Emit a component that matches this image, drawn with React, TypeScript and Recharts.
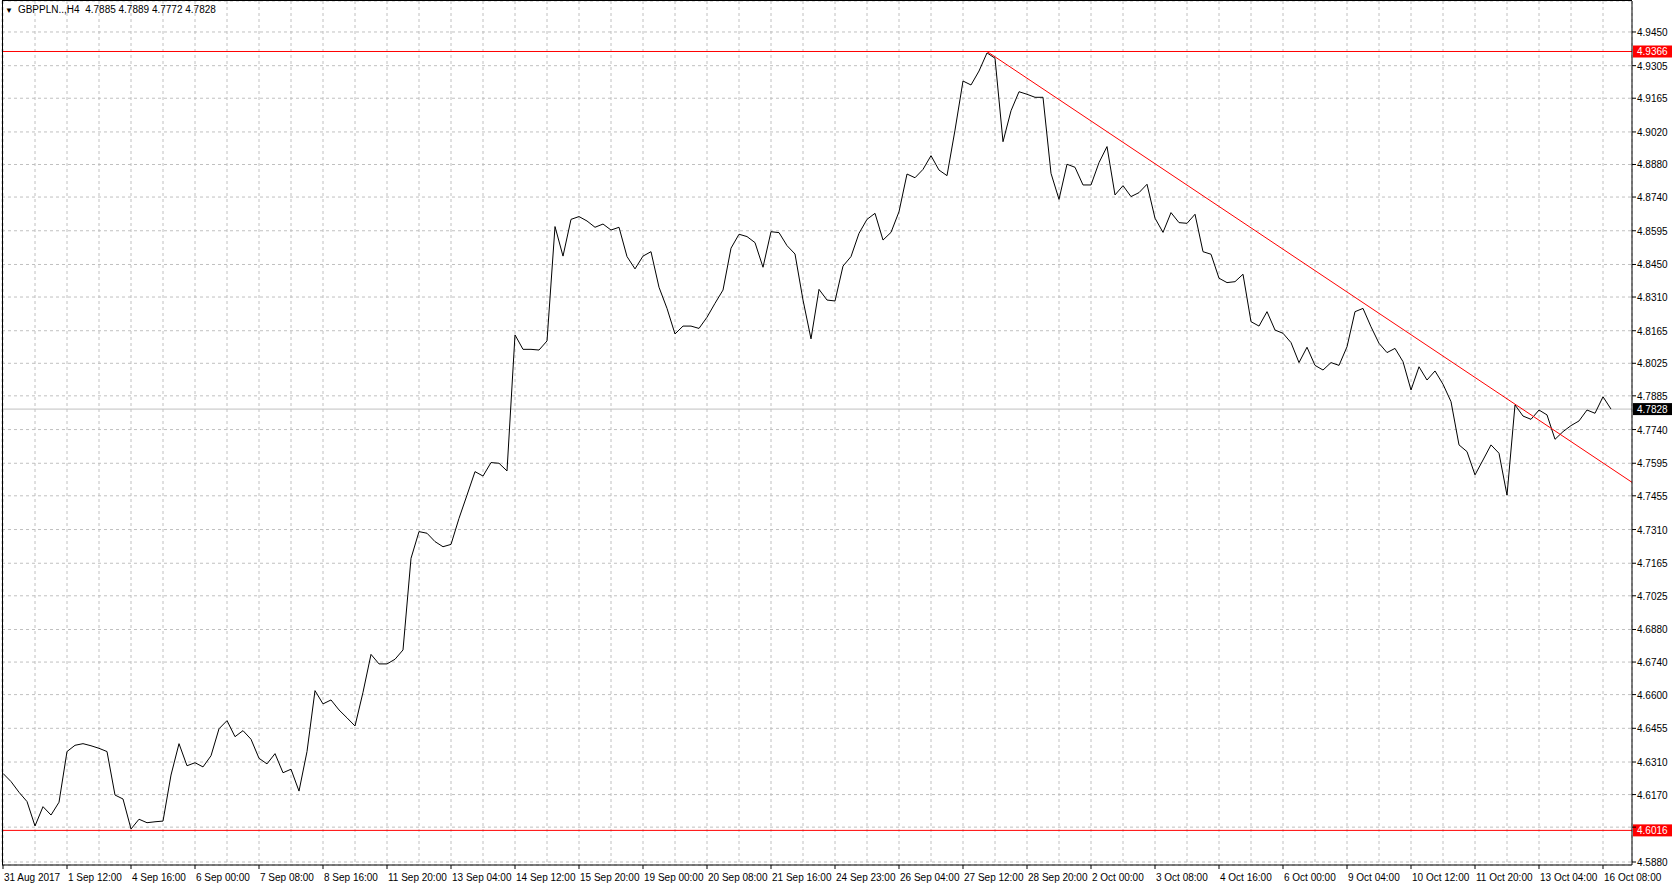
import React from 'react';
import { LineChart, Line, XAxis, YAxis, CartesianGrid, ReferenceLine } from 'recharts';

// GBPPLN H4 closes, one per bar (31 Aug 2017 .. 16 Oct 2017)
const closes = [
  4.6261, 4.6226, 4.6180, 4.6140, 4.6035, 4.6118, 4.6082, 4.6137, 4.6355, 4.6382,
  4.6389, 4.6380, 4.6369, 4.6355, 4.6168, 4.6151, 4.6022, 4.6064, 4.6049, 4.6053,
  4.6056, 4.6254, 4.6389, 4.6294, 4.6307, 4.6289, 4.6337, 4.6453, 4.6488, 4.6419,
  4.6445, 4.6408, 4.6326, 4.6302, 4.6346, 4.6264, 4.6279, 4.6185, 4.6355, 4.6617,
  4.6560, 4.6577, 4.6534, 4.6500, 4.6465, 4.6610, 4.6773, 4.6732, 4.6732, 4.6752,
  4.6792, 4.7186, 4.7301, 4.7294, 4.7258, 4.7236, 4.7246, 4.7358, 4.7458, 4.7559,
  4.7540, 4.7598, 4.7595, 4.7562, 4.8147, 4.8085, 4.8085, 4.8082, 4.8121, 4.8613,
  4.8486, 4.8644, 4.8656, 4.8637, 4.8610, 4.8624, 4.8598, 4.8610, 4.8484, 4.8431,
  4.8486, 4.8505, 4.8352, 4.8261, 4.8151, 4.8185, 4.8185, 4.8175, 4.8223, 4.8283,
  4.8340, 4.8520, 4.8580, 4.8570, 4.8544, 4.8438, 4.8591, 4.8587, 4.8531, 4.8495,
  4.8297, 4.8130, 4.8343, 4.8297, 4.8293, 4.8443, 4.8484, 4.8584, 4.8644, 4.8670,
  4.8555, 4.8588, 4.8677, 4.8839, 4.8823, 4.8859, 4.8918, 4.8856, 4.8832, 4.9028,
  4.9239, 4.9222, 4.9282, 4.9360, 4.9337, 4.8978, 4.9111, 4.9193, 4.9182, 4.9169,
  4.9169, 4.8842, 4.8730, 4.8881, 4.8868, 4.8792, 4.8792, 4.8888, 4.8957, 4.8749,
  4.8789, 4.8742, 4.8759, 4.8795, 4.8649, 4.8588, 4.8673, 4.8630, 4.8627, 4.8666,
  4.8505, 4.8494, 4.8391, 4.8372, 4.8376, 4.8408, 4.8204, 4.8185, 4.8247, 4.8168,
  4.8154, 4.8114, 4.8028, 4.8094, 4.8016, 4.7996, 4.8028, 4.8016, 4.8096, 4.8247,
  4.8261, 4.8182, 4.8111, 4.8071, 4.8089, 4.8032, 4.7910, 4.8010, 4.7953, 4.7992,
  4.7935, 4.7860, 4.7674, 4.7645, 4.7545, 4.7609, 4.7674, 4.7638, 4.7458, 4.7846,
  4.7798, 4.7784, 4.7824, 4.7803, 4.7698, 4.7731, 4.7757, 4.7777, 4.7824, 4.7810,
  4.7881, 4.7828,
];

// one label every 8 bars
const timeLabels = [
  '31 Aug 2017', '1 Sep 12:00', '4 Sep 16:00', '6 Sep 00:00', '7 Sep 08:00', '8 Sep 16:00',
  '11 Sep 20:00', '13 Sep 04:00', '14 Sep 12:00', '15 Sep 20:00', '19 Sep 00:00', '20 Sep 08:00',
  '21 Sep 16:00', '24 Sep 23:00', '26 Sep 04:00', '27 Sep 12:00', '28 Sep 20:00', '2 Oct 00:00',
  '3 Oct 08:00', '4 Oct 16:00', '6 Oct 00:00', '9 Oct 04:00', '10 Oct 12:00', '11 Oct 20:00',
  '13 Oct 04:00', '16 Oct 08:00',
];
const barsPerLabel = 8;

const priceTicks = [
  '4.9450', '4.9305', '4.9165', '4.9020', '4.8880', '4.8740', '4.8595', '4.8450', '4.8310',
  '4.8165', '4.8025', '4.7885', '4.7740', '4.7595', '4.7455', '4.7310', '4.7165', '4.7025',
  '4.6880', '4.6740', '4.6600', '4.6455', '4.6310', '4.6170', '4.6030', '4.5880',
];

const symbol = 'GBPPLN..,H4';
const lastBar = ['4.7885', '4.7889', '4.7772', '4.7828'];
const resistance = 4.9366;
const support = 4.6016;
const lastPrice = 4.7828;
const trendFrom = { bar: 123, price: 4.9366 };
const trendTo = { bar: 203.625, price: 4.7513 };

const data = closes.map((close, bar) => ({ bar, close }));
const gridBars = Array.from({ length: timeLabels.length * 2 - 1 }, (_, i) => i * (barsPerLabel / 2));
const taggedPrices = [resistance, support, lastPrice];

const W = 1672;
const H = 886;
const AXIS_X = 1632;
const PLOT_BOTTOM = 865;
const FONT = '"Liberation Sans", Arial, sans-serif';

const TimeTick = (props: any) => {
  const { x, payload } = props;
  const bar = payload.value;
  if (bar % barsPerLabel !== 0) return null;
  const label = timeLabels[bar / barsPerLabel];
  return (
    <g>
      <line x1={x} x2={x} y1={PLOT_BOTTOM} y2={PLOT_BOTTOM + 4} stroke="#000" />
      <text x={x + 1} y={PLOT_BOTTOM + 16} fontSize={10} fontFamily={FONT} fill="#000">
        {label}
      </text>
    </g>
  );
};

const PriceTick = (props: any) => {
  const { y, payload } = props;
  const value = Number(payload.value);
  // the coloured price tags cover a tick label sitting right under them
  const covered = taggedPrices.some((p) => Math.abs(p - value) < 0.003);
  return (
    <g>
      <line x1={AXIS_X} x2={AXIS_X + 4} y1={y} y2={y} stroke="#000" />
      {!covered && (
        <text x={AXIS_X + 5} y={y + 4} fontSize={10} fontFamily={FONT} fill="#000">
          {value.toFixed(4)}
        </text>
      )}
    </g>
  );
};

const priceTag = (fill: string, value: number) => (props: any) => {
  const y = props.viewBox?.y ?? 0;
  return (
    <g>
      <rect x={AXIS_X + 1} y={y - 6} width={W - AXIS_X - 1} height={12} fill={fill} />
      <text x={AXIS_X + 5} y={y + 4} fontSize={10} fontFamily={FONT} fill="#fff">
        {value.toFixed(4)}
      </text>
    </g>
  );
};

export default function App() {
  return (
    <div style={{ position: 'absolute', left: 0, top: 0, width: W, height: H, background: '#fff' }}>
      <LineChart
        width={W}
        height={H}
        data={data}
        margin={{ top: 1, right: 0, bottom: 0, left: 2 }}
      >
        <CartesianGrid stroke="#c0c0c0" strokeDasharray="3 3" />
        <XAxis
          dataKey="bar"
          type="number"
          domain={[-0.125, 203.625]}
          ticks={gridBars}
          interval={0}
          height={21}
          axisLine={{ stroke: '#000' }}
          tickLine={false}
          tick={<TimeTick />}
          allowDataOverflow
        />
        <YAxis
          orientation="right"
          type="number"
          domain={[4.58671, 4.95832]}
          ticks={priceTicks.map(Number)}
          interval={0}
          width={40}
          axisLine={{ stroke: '#000' }}
          tickLine={false}
          tick={<PriceTick />}
          allowDataOverflow
        />
        <ReferenceLine y={lastPrice} stroke="#c0c0c0" label={priceTag('#000', lastPrice)} />
        <Line
          dataKey="close"
          type="linear"
          stroke="#000"
          strokeWidth={1}
          dot={false}
          activeDot={false}
          isAnimationActive={false}
        />
        <ReferenceLine y={resistance} stroke="#ff0000" label={priceTag('#ff0000', resistance)} />
        <ReferenceLine y={support} stroke="#ff0000" label={priceTag('#ff0000', support)} />
        <ReferenceLine
          segment={[
            { x: trendFrom.bar, y: trendFrom.price },
            { x: trendTo.bar, y: trendTo.price },
          ]}
          stroke="#ff0000"
          ifOverflow="visible"
        />
      </LineChart>
      <div
        style={{
          position: 'absolute',
          left: 2,
          top: 0,
          width: AXIS_X - 2,
          height: PLOT_BOTTOM,
          borderTop: '1px solid #000',
          borderLeft: '1px solid #000',
          boxSizing: 'border-box',
          pointerEvents: 'none',
        }}
      />
      <div
        style={{
          position: 'absolute',
          left: 5,
          top: 4,
          fontFamily: FONT,
          fontSize: 10,
          lineHeight: '12px',
          color: '#000',
          whiteSpace: 'pre',
        }}
      >
        <span style={{ fontSize: 8, marginRight: 5 }}>▼</span>
        {symbol + '  ' + lastBar.join(' ')}
      </div>
    </div>
  );
}
